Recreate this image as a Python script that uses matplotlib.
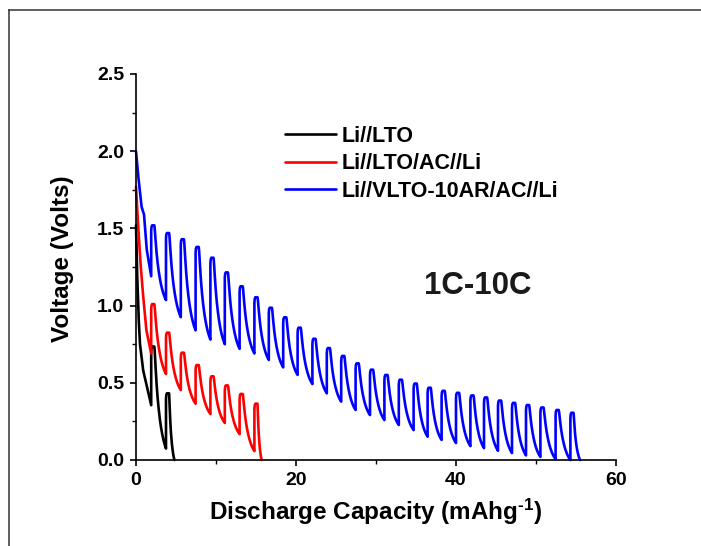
import numpy as np
import matplotlib
matplotlib.use("Agg")
import matplotlib.pyplot as plt
from matplotlib.lines import Line2D

plt.rcParams["font.family"] = ["Liberation Sans", "DejaVu Sans"]
plt.rcParams["font.weight"] = "bold"
plt.rcParams["mathtext.fontset"] = "custom"
plt.rcParams["mathtext.rm"] = "Liberation Sans:bold"
plt.rcParams["mathtext.it"] = "Liberation Sans:bold"
plt.rcParams["mathtext.bf"] = "Liberation Sans:bold"
plt.rcParams["mathtext.default"] = "rm"

# ---- pulse discharge data (capacity in mAh/g, voltage in V) ----
# capacity at which each rest/recovery step (vertical jump) occurs
rise_x = [1.9, 3.75, 5.6, 7.45, 9.3, 11.1, 12.95, 14.8, 16.6, 18.4,
          20.2, 22.05, 23.85, 25.65, 27.45, 29.25, 31.05, 32.85, 34.7, 36.45,
          38.2, 40.0, 41.8, 43.5, 45.25, 47.0, 48.75, 50.55, 52.45, 54.3]

# Li//LTO
lto_start_x = [0.0, 0.15, 0.35, 0.5, 0.9, 1.9]
lto_start_v = [1.52, 1.2, 0.9, 0.75, 0.58, 0.355]
lto_trough = [0.355, 0.074]
lto_peak = [0.735, 0.432]
lto_end = 4.8

# Li//LTO/AC//Li
ac_start_x = [0.0, 0.3, 0.6, 0.9, 1.3, 1.9]
ac_start_v = [1.77, 1.49, 1.25, 1.06, 0.84, 0.69]
ac_trough = [0.69, 0.557, 0.453, 0.365, 0.298, 0.24, 0.168, 0.058]
ac_peak = [1.01, 0.825, 0.695, 0.615, 0.542, 0.483, 0.428, 0.365]
ac_end = 15.7

# Li//VLTO-10AR/AC//Li
vlto_start_x = [0.0, 0.3, 0.7, 1.0, 1.35, 1.9]
vlto_start_v = [2.0, 1.83, 1.64, 1.59, 1.36, 1.19]
vlto_trough = [1.19, 1.036, 0.925, 0.84, 0.78, 0.75, 0.72, 0.69, 0.648, 0.600,
               0.551, 0.492, 0.432, 0.378, 0.324, 0.291, 0.259, 0.227, 0.194, 0.151,
               0.13, 0.11, 0.09, 0.077, 0.06, 0.045, 0.03, 0.02, 0.005, 0.0]
vlto_peak = [1.52, 1.47, 1.43, 1.38, 1.31, 1.215, 1.125, 1.054, 0.986, 0.924,
             0.857, 0.785, 0.725, 0.674, 0.626, 0.585, 0.551, 0.52, 0.495, 0.468,
             0.448, 0.435, 0.418, 0.405, 0.385, 0.37, 0.356, 0.34, 0.324, 0.306]
vlto_end = 55.5

labels = ["Li//LTO", "Li//LTO/AC//Li", "Li//VLTO-10AR/AC//Li"]
colors = ["black", "#ff0000", "#0000ff"]


def pulse_curve(start_x, start_v, rises, troughs, peaks, end_x, top=0.38, k=2.0):
    """Build the pulse discharge trace: vertical recovery, rounded cap, decay."""
    xs = list(start_x)
    vs = list(start_v)
    n = len(peaks)
    s = np.linspace(0.0, 1.0, 80)
    decay = (1 - np.exp(-k * s)) / (1 - np.exp(-k))
    decay = decay * (1 - np.exp(-s / 0.06))   # soft shoulder after the cap
    decay = decay / decay[-1]
    for i in range(n):
        x0 = rises[i]
        p = peaks[i]
        xs += [x0, x0, x0 + 0.04, x0 + 0.12, x0 + top]
        vs += [troughs[i], p - 0.035, p - 0.01, p, p]
        if i + 1 < n:
            xn, vn = rises[i + 1], troughs[i + 1]
        else:
            xn, vn = end_x, 0.0
        xa = x0 + top
        xs += list(xa + (xn - xa) * s[1:])
        vs += list(p - (p - vn) * decay[1:])
    return np.array(xs), np.array(vs)


fig = plt.figure(figsize=(7.01, 5.46), dpi=100)
ax = fig.add_axes([136 / 701, 1 - 460 / 546, 480 / 701, 386 / 546])

series = [
    (lto_start_x, lto_start_v, lto_trough, lto_peak, lto_end),
    (ac_start_x, ac_start_v, ac_trough, ac_peak, ac_end),
    (vlto_start_x, vlto_start_v, vlto_trough, vlto_peak, vlto_end),
]
handles = []
for (sx, sv, tr, pk, ex), lab, col in zip(series, labels, colors):
    x, v = pulse_curve(sx, sv, rise_x[:len(pk)], tr, pk, ex)
    ln, = ax.plot(x, v, color=col, lw=1.9, label=lab, clip_on=False,
                  solid_joinstyle="round", solid_capstyle="round")
    handles.append(ln)

ax.set_xlim(0, 60)
ax.set_ylim(0, 2.5)
ax.set_xticks([0, 20, 40, 60])
ax.set_xticks([10, 30, 50], minor=True)
ax.set_yticks([0.0, 0.5, 1.0, 1.5, 2.0, 2.5])
ax.set_yticks([0.25, 0.75, 1.25, 1.75, 2.25], minor=True)
ax.set_yticklabels(["0.0", "0.5", "1.0", "1.5", "2.0", "2.5"])

for side in ("top", "right"):
    ax.spines[side].set_visible(False)
for side in ("left", "bottom"):
    ax.spines[side].set_linewidth(1.2)

ax.tick_params(which="major", direction="out", length=4.5, width=1.2,
               labelsize=14, pad=4)
ax.tick_params(which="minor", direction="out", length=2.6, width=1.0)
for t in ax.get_xticklabels() + ax.get_yticklabels():
    t.set_fontweight("bold")

ax.set_xlabel(r"Discharge Capacity (mAhg$^{\text{-1}}$)", fontsize=17.5,
              fontweight="bold", labelpad=6)
ax.set_ylabel("Voltage (Volts)", fontsize=17.5, fontweight="bold")
ax.yaxis.set_label_coords(-0.13, 0.522)

ax.text(42.7, 1.128, "1C-10C", fontsize=22.5, fontweight="bold",
        color="#1a1a1a", ha="center", va="center")

leg = ax.legend(handles=handles, loc="upper left",
                bbox_to_anchor=(0.3104, 0.866), frameon=False,
                fontsize=15.5, handlelength=2.35, handletextpad=0.3,
                labelspacing=0.3, borderpad=0, borderaxespad=0)
for t in leg.get_texts():
    t.set_fontweight("bold")

# outer frame lines along the top and left edges
fig.add_artist(Line2D([9 / 701, 1.0], [1 - 10 / 546, 1 - 10 / 546],
                      transform=fig.transFigure, color="#333333", lw=1.1))
fig.add_artist(Line2D([9 / 701, 9 / 701], [0.0, 1 - 10 / 546],
                      transform=fig.transFigure, color="#333333", lw=1.1))

fig.savefig("out.png", dpi=100)
